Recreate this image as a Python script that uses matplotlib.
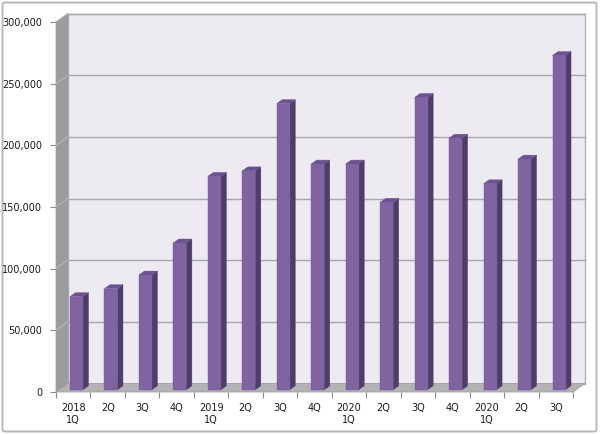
import matplotlib
matplotlib.use("Agg")
import matplotlib.pyplot as plt
from matplotlib.patches import Polygon, Rectangle, FancyBboxPatch

categories = ["2018\n1Q", "2Q", "3Q", "4Q", "2019\n1Q", "2Q", "3Q", "4Q",
              "2020\n1Q", "2Q", "3Q", "4Q", "2020\n1Q", "2Q", "3Q"]
values = [75500, 82000, 93000, 119000, 173000, 177500, 232000, 183000,
          183000, 152000, 237000, 204000, 167000, 187000, 271000]
yticks = [0, 50000, 100000, 150000, 200000, 250000, 300000]
ytick_labels = ["0", "50,000", "100,000", "150,000", "200,000", "250,000", "300,000"]

W, H = 600, 434
fig = plt.figure(figsize=(W / 100, H / 100), dpi=100)
fig.patch.set_facecolor("white")

# outer border
fig.patches.append(FancyBboxPatch((2.5 / W, 2.5 / H), 594 / W, 429 / H,
                                  boxstyle="round,pad=0,rounding_size=0.004",
                                  transform=fig.transFigure, facecolor="none",
                                  edgecolor="#B8B8B8", linewidth=1.4, zorder=-1))

ax_left, ax_right = 56, 573
ax_bottom_px, ax_top_px = 392, 22
ax = fig.add_axes([ax_left / W, (H - ax_bottom_px) / H,
                   (ax_right - ax_left) / W, (ax_bottom_px - ax_top_px) / H])
ax.set_zorder(2)
ax.set_facecolor("none")
n = len(categories)
ymax = 300000
ax.set_xlim(0, n)
ax.set_ylim(0, ymax)
for s in ax.spines.values():
    s.set_visible(False)

# depth offset (pixels -> data)
px_x = n / (ax_right - ax_left)
px_y = ymax / (ax_bottom_px - ax_top_px)
dx = 12 * px_x
dy = 8.5 * px_y

grid_col = "#A8A8AC"

# back wall
ax.add_patch(Rectangle((dx, dy), n, ymax, facecolor="#EDEAF1", edgecolor="#B0B0B0",
                       linewidth=1.0, zorder=1, clip_on=False))
# left wall
ax.add_patch(Polygon([(0, 0), (0, ymax), (dx, ymax + dy), (dx, dy)], closed=True,
                     facecolor="#9C9CA0", edgecolor="#9C9CA0", linewidth=0.5,
                     zorder=1, clip_on=False))
# floor
ax.add_patch(Polygon([(0, 0), (n, 0), (n + dx, dy), (dx, dy)], closed=True,
                     facecolor="#B3B3B6", edgecolor="#A0A0A4", linewidth=0.6,
                     zorder=1, clip_on=False))

# gridlines
for v in yticks[1:]:
    ax.plot([dx, n + dx], [v + dy, v + dy], color=grid_col, lw=1.0, zorder=2, clip_on=False)
    ax.plot([0, dx], [v, v + dy], color="#B5B5B8", lw=0.8, zorder=2, clip_on=False)

# bars
front_col = "#8064A2"
side_col = "#4F3D69"
top_col = "#6A5390"
bw = 13 / 34.47
d0, d1 = 0.27, 0.73
for i, v in enumerate(values):
    xl = i + 0.5 - bw / 2
    xr = i + 0.5 + bw / 2
    ox0, oy0 = d0 * dx, d0 * dy
    ox1, oy1 = d1 * dx, d1 * dy
    z = 5 + i * 0.01
    ax.add_patch(Polygon([(xr + ox0, oy0), (xr + ox1, oy1), (xr + ox1, v + oy1), (xr + ox0, v + oy0)],
                         closed=True, facecolor=side_col, edgecolor=side_col, lw=0.3, zorder=z, clip_on=False))
    ax.add_patch(Polygon([(xl + ox0, v + oy0), (xr + ox0, v + oy0), (xr + ox1, v + oy1), (xl + ox1, v + oy1)],
                         closed=True, facecolor=top_col, edgecolor=top_col, lw=0.3, zorder=z, clip_on=False))
    ax.add_patch(Rectangle((xl + ox0, oy0), bw, v, facecolor=front_col, edgecolor="#76599A",
                           lw=0.3, zorder=z + 0.005, clip_on=False))

# ticks
ax.set_yticks(yticks)
ax.set_yticklabels(ytick_labels)
ax.tick_params(axis="y", length=4, width=0.8, color="#8C8C8C", pad=6,
               labelsize=7, labelcolor="#1A1A1A")
ax.set_xticks([i + 0.5 for i in range(n)])
ax.set_xticklabels(categories)
ax.set_xticks(list(range(n + 1)), minor=True)
ax.tick_params(axis="x", which="major", length=0, pad=8, labelsize=7, labelcolor="#1A1A1A")
ax.tick_params(axis="x", which="minor", length=4, width=0.8, color="#8C8C8C")
for lab in ax.get_xticklabels():
    lab.set_linespacing(1.25)

fig.savefig("out.png", dpi=100, facecolor="white")
